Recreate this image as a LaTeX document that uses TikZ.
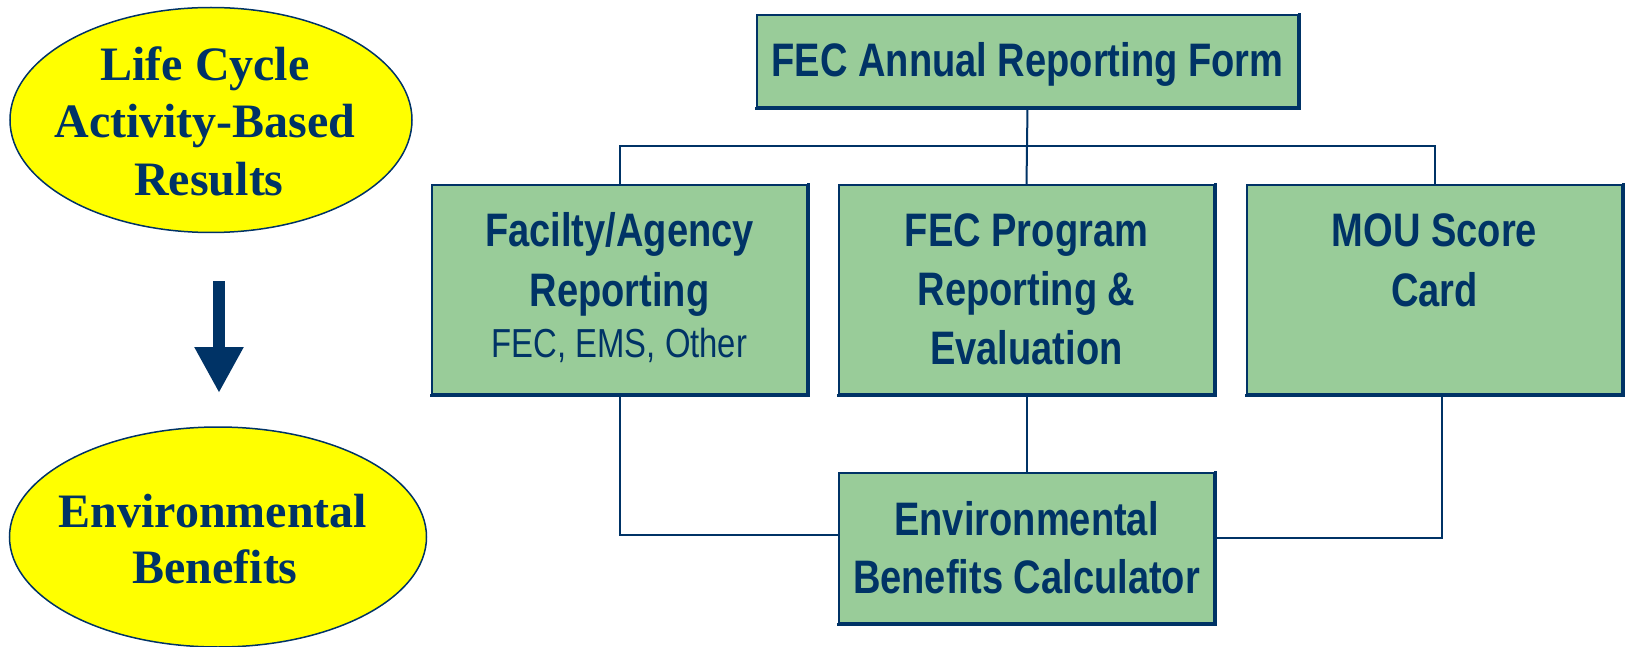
\documentclass[tikz,border=0pt]{standalone}
\usepackage{fontspec}
\setmainfont{Liberation Serif}
\newfontfamily\narrowsans[FakeStretch=0.81]{Liberation Sans}
\usetikzlibrary{shapes.geometric,arrows.meta}
\definecolor{navy}{HTML}{003366}
\definecolor{sage}{HTML}{99CC99}
\definecolor{yel}{HTML}{FFFF00}
\begin{document}
\begin{tikzpicture}[x=1pt,y=-1pt,
  box/.style={rectangle, draw=navy, fill=sage, line width=2.2pt, inner sep=0pt},
  edge/.style={draw=navy, line width=3.2pt, line cap=rect},
  oval/.style={ellipse, draw=navy, fill=yel, line width=1.5pt, inner sep=0pt},
  conn/.style={draw=navy, line width=2pt},
  btxt/.style={anchor=base, inner sep=0pt, text=navy, font=\narrowsans\bfseries\fontsize{47}{57}\selectfont},
  rtxt/.style={anchor=base, inner sep=0pt, text=navy, font=\narrowsans\fontsize{40.5}{48}\selectfont},
  stxt/.style={anchor=base, inner sep=0pt, text=navy, font=\bfseries\fontsize{48}{58}\selectfont}]
\useasboundingbox (0,0) rectangle (1628,647);
\fill[white] (0,0) rectangle (1628,647);

% left column
\node[oval, minimum width=402pt, minimum height=225pt] (E1) at (211,120) {};
\node[stxt] (e1a) at (205,81) {Life Cycle};
\node[stxt] (e1b) at (205,138) {Activity-Based};
\node[stxt] (e1c) at (209,196) {Results};

\node[oval, minimum width=417pt, minimum height=220pt] (E2) at (218,537) {};
\node[stxt] (e2a) at (213,527) {Environmental};
\node[stxt] (e2b) at (215,583) {Benefits};

\coordinate (arS) at (219,281);
\coordinate (arE) at (219,393);
\draw[navy, line width=12pt, -{Triangle[width=46pt,length=46pt]}] (arS) -- (arE);

% boxes
\node[box, minimum width=541pt, minimum height=92pt] (T) at (1027.5,61) {};
\node[btxt] (t1) at (1027.5,77) {FEC Annual Reporting Form};

\node[box, minimum width=375pt, minimum height=209pt] (A) at (619.5,289.5) {};
\node[btxt] (a1) at (619.5,247) {Facilty/Agency};
\node[btxt] (a2) at (619.5,306) {Reporting};
\node[rtxt] (a3) at (619.5,357) {FEC, EMS, Other};

\node[box, minimum width=375pt, minimum height=209pt] (B) at (1026.5,289.5) {};
\node[btxt] (b1) at (1026.5,247) {FEC Program};
\node[btxt] (b2) at (1026.5,305) {Reporting \&};
\node[btxt] (b3) at (1026.5,364) {Evaluation};

\node[box, minimum width=375pt, minimum height=209pt] (C) at (1434.5,289.5) {};
\node[btxt] (c1) at (1434.5,247) {MOU Score};
\node[btxt] (c2) at (1434.5,306) {Card};

\node[box, minimum width=375pt, minimum height=150pt] (D) at (1026.5,548) {};
\node[btxt] (d1) at (1026.5,535) {Environmental};
\node[btxt] (d2) at (1026.5,593) {Benefits Calculator};

% heavier bottom and right edges
\foreach \b in {T,A,B,C,D}
  \draw[edge] ([shift={(0.4,0.4)}]\b.south west) -- ([shift={(0.4,0.4)}]\b.south east) -- ([shift={(0.4,0.4)}]\b.north east);

% connectors
\coordinate (hy) at (0,146);
\coordinate (lk) at (620,535);
\coordinate (rk) at (1442,538);
\draw[conn] (T.south) -- (B.north);
\draw[conn] (A.north) -- (A.north |- hy) -- (C.north |- hy) -- (C.north);
\draw[conn] (B.south) -- (D.north);
\draw[conn] (A.south -| lk) |- (D.west |- lk);
\draw[conn] (C.south -| rk) |- (D.east |- rk);
\end{tikzpicture}
\end{document}
